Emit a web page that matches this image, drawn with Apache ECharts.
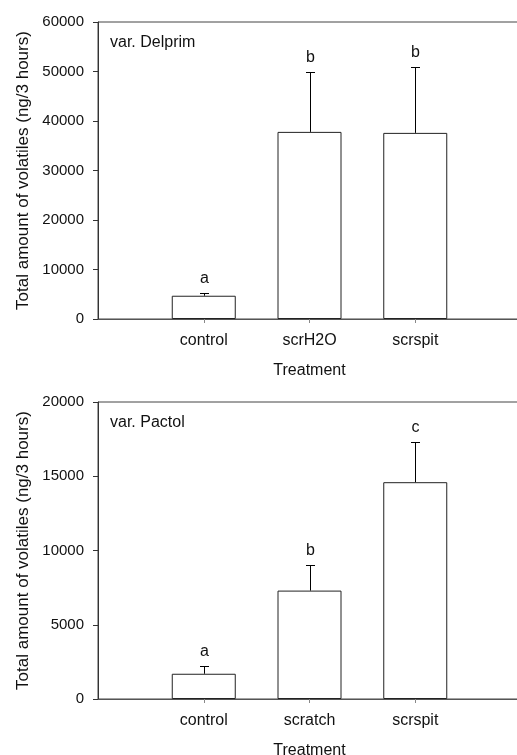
<!DOCTYPE html>
<html>
<head>
<meta charset="utf-8">
<script src="https://cdn.jsdelivr.net/npm/echarts@6/dist/echarts.min.js"></script>
<style>
  html, body { margin: 0; padding: 0; background: #fff; }
  #chart { width: 517px; height: 755px; }
</style>
</head>
<body>
<div id="chart"></div>
<script>
// Panel 1: var. Delprim
const categoriesTop = ['control', 'scrH2O', 'scrspit'];
const meansTop = [4700, 37800, 37600];
const upperTop = [5250, 50000, 51000];
const lettersTop = ['a', 'b', 'b'];
const yMaxTop = 60000;
const yStepTop = 10000;

// Panel 2: var. Pactol
const categoriesBottom = ['control', 'scratch', 'scrspit'];
const meansBottom = [1700, 7300, 14600];
const upperBottom = [2250, 9000, 17300];
const lettersBottom = ['a', 'b', 'c'];
const yMaxBottom = 20000;
const yStepBottom = 5000;

const panelNames = ['var. Delprim', 'var. Pactol'];
const xTitle = 'Treatment';
const yTitle = 'Total amount of volatiles (ng/3 hours)';

const FONT = 'Liberation Sans, Arial, sans-serif';
const INK = '#111';

// empty slots on both ends keep the bars away from the axes
const pad = arr => ['', ...arr, ''];
const padVals = arr => ['-', ...arr, '-'];

const grids = [
  { left: 98, top: 22, width: 423, height: 297 },
  { left: 98, top: 402, width: 423, height: 297 }
];

function xAxisFor(gridIndex, cats) {
  return {
    type: 'category', gridIndex, data: pad(cats), boundaryGap: false,
    axisLine: { show: true, lineStyle: { color: '#555', width: 1 } },
    axisTick: { show: true, length: 4, lineStyle: { color: '#888' },
                interval: (i, v) => v !== '' },
    axisLabel: { interval: 0, margin: 14, fontSize: 16, fontFamily: FONT, color: INK },
    name: xTitle, nameLocation: 'middle', nameGap: 44,
    nameTextStyle: { fontSize: 16, fontFamily: FONT, color: INK },
    splitLine: { show: false }
  };
}

function yAxisFor(gridIndex, max, step) {
  return {
    type: 'value', gridIndex, min: 0, max, interval: step,
    axisLine: { show: true, lineStyle: { color: '#333', width: 1 } },
    axisTick: { show: true, inside: false, length: 5, lineStyle: { color: '#333' } },
    axisLabel: { margin: 14, fontSize: 15, fontFamily: FONT, color: INK,
                 formatter: v => String(v) },
    splitLine: { show: false },
    name: yTitle, nameLocation: 'middle', nameGap: 60, nameRotate: 90,
    nameTextStyle: { fontSize: 17, fontFamily: FONT, color: INK }
  };
}

function barSeries(idx, means) {
  return {
    type: 'bar', xAxisIndex: idx, yAxisIndex: idx, data: padVals(means),
    barWidth: 64,
    itemStyle: { color: '#fff', borderColor: '#222', borderWidth: 1 },
    silent: true, animation: false
  };
}

function errorSeries(idx, means, upper, letters) {
  const data = means.map((m, i) => [i + 1, m, upper[i]]);
  return {
    type: 'custom', xAxisIndex: idx, yAxisIndex: idx, data, z: 5,
    animation: false, silent: true,
    renderItem: (params, api) => {
      const x = api.value(0);
      const p0 = api.coord([x, api.value(1)]);
      const p1 = api.coord([x, api.value(2)]);
      const cx = Math.round(p0[0]) + 0.5;
      const cy = Math.round(p1[1]) + 0.5;
      return {
        type: 'group',
        children: [
          { type: 'line', shape: { x1: cx, y1: p0[1], x2: cx, y2: cy },
            style: { stroke: '#000', lineWidth: 1 } },
          { type: 'line', shape: { x1: cx - 4.5, y1: cy, x2: cx + 4.5, y2: cy },
            style: { stroke: '#000', lineWidth: 1 } },
          { type: 'text',
            style: { text: letters[params.dataIndex], x: cx, y: cy - 7,
                     align: 'center', verticalAlign: 'bottom',
                     font: '16px ' + FONT, fill: INK } }
        ]
      };
    }
  };
}

const chart = echarts.init(document.getElementById('chart'), null, { renderer: 'canvas' });
chart.setOption({
  animation: false,
  backgroundColor: '#fff',
  grid: grids.map(g => Object.assign({ show: true, borderColor: '#444', borderWidth: 1,
                                       backgroundColor: 'transparent',
                                       containLabel: false, outerBoundsMode: 'none' }, g)),
  xAxis: [xAxisFor(0, categoriesTop), xAxisFor(1, categoriesBottom)],
  yAxis: [yAxisFor(0, yMaxTop, yStepTop), yAxisFor(1, yMaxBottom, yStepBottom)],
  series: [
    barSeries(0, meansTop), errorSeries(0, meansTop, upperTop, lettersTop),
    barSeries(1, meansBottom), errorSeries(1, meansBottom, upperBottom, lettersBottom)
  ],
  graphic: panelNames.map((name, i) => ({
    type: 'text', left: 110, top: grids[i].top + 13,
    style: { text: name, font: '16px ' + FONT, fill: INK }
  }))
});
</script>
</body>
</html>
